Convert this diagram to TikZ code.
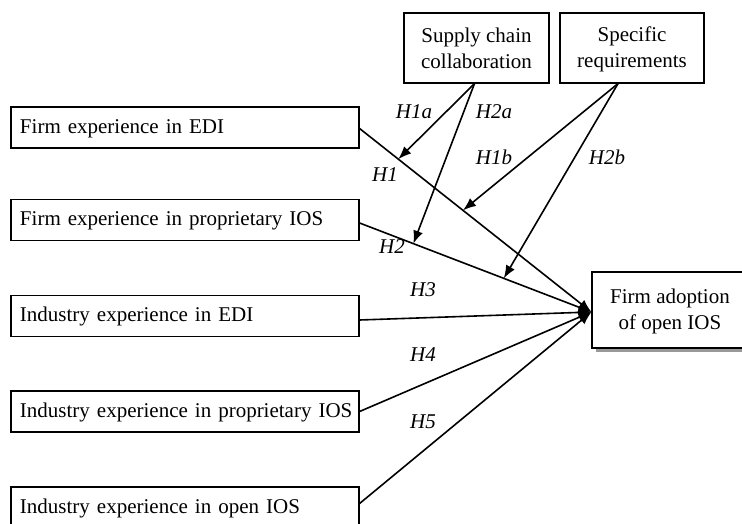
\documentclass[tikz,border=0pt]{standalone}
\usepackage{fontspec}
\setmainfont{Liberation Serif}
\usetikzlibrary{arrows.meta,shadows}
\newcommand{\ls}{\rule[-2pt]{0pt}{20pt}}
\newcommand{\bs}{\rule[-2pt]{0pt}{18pt}}
\begin{document}
\begin{tikzpicture}[x=1pt,y=-1pt,
  font=\fontsize{21}{26}\selectfont,
  lbox/.style={draw, line width=1.2pt, text width=340pt, align=left, inner xsep=4pt, inner ysep=0pt, minimum height=41pt},
  mbox/.style={draw, line width=1.2pt, align=center, inner sep=0pt, minimum height=70pt},
  tbox/.style={draw, line width=1.2pt, fill=white, align=center, inner sep=0pt, minimum width=156pt, minimum height=76pt,
    drop shadow={shadow xshift=4pt, shadow yshift=-4pt, fill=gray!80, opacity=1}},
  conn/.style={line width=1.6pt, -{Latex[length=13pt,width=10pt]}},
  hyp/.style={font=\fontsize{21}{26}\selectfont\itshape, inner sep=0pt}]
\useasboundingbox (0,0) rectangle (742,524);
\clip (0,0) rectangle (742,524);

\node[lbox] (b1) at (185,127.5) {\bs\hspace*{5pt}Firm experience in EDI};
\node[lbox] (b2) at (185,220) {\bs\hspace*{5pt}Firm experience in proprietary IOS};
\node[lbox] (b3) at (185,316) {\bs\hspace*{5pt}Industry experience in EDI};
\node[lbox] (b4) at (185,411.5) {\bs\hspace*{5pt}Industry experience in proprietary IOS};
\node[lbox] (b5) at (185,507.5) {\bs\hspace*{5pt}Industry experience in open IOS};

\node[mbox, minimum width=145pt] (sc) at (476.5,48) {\ls Supply chain\\\ls collaboration};
\node[mbox, minimum width=144pt] (sr) at (632,48) {\ls Specific\\\ls requirements};

\node[tbox] (tgt) at (670,310) {\ls Firm adoption\\\ls of open IOS};

\coordinate (src2) at ([xshift=-14pt]sr.south);

\draw[conn] ([yshift=-1pt]b1.east) -- ([yshift=-2pt]tgt.west)
  coordinate[pos=0.167] (m1a) coordinate[pos=0.446] (m1b);
\draw[conn] ([yshift=-3pt]b2.east) -- ([yshift=-2pt]tgt.west)
  coordinate[pos=0.232] (m2a) coordinate[pos=0.622] (m2b);
\draw[conn] ([yshift=-4pt]b3.east) -- ([yshift=-2pt]tgt.west);
\draw[conn] (b4.east) -- ([yshift=-2pt]tgt.west);
\draw[conn] ([yshift=4pt]b5.east) -- ([yshift=-2pt]tgt.west);

\draw[conn] ([xshift=-2pt]sc.south) -- (m1a);
\draw[conn] ([xshift=-2pt]sc.south) -- (m2a);
\draw[conn] (src2) -- (m1b);
\draw[conn] (src2) -- (m2b);

\node[hyp] (h1a) at (414,112) {H1a};
\node[hyp] (h2a) at (494,112) {H2a};
\node[hyp] (h1b) at (494,157) {H1b};
\node[hyp] (h2b) at (607,157) {H2b};
\node[hyp] (h1) at (385,175) {H1};
\node[hyp] (h2) at (392,247) {H2};
\node[hyp] (h3) at (423,290) {H3};
\node[hyp] (h4) at (423,355) {H4};
\node[hyp] (h5) at (423,422) {H5};
\end{tikzpicture}
\end{document}
